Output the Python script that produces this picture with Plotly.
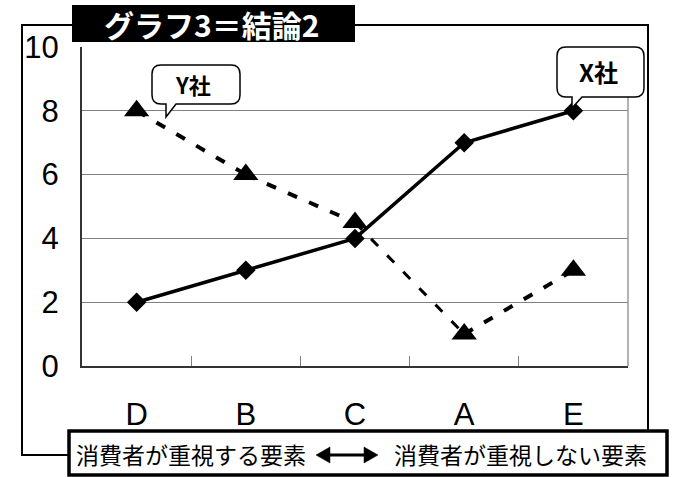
import plotly.graph_objects as go

# ---- data ----
categories = ["D", "B", "C", "A", "E"]
x_company = [2, 3, 4, 7, 8]          # X社 (solid, diamonds)
y_company = [8, 6, 4.5, 1, 3]        # Y社 (dashed, triangles)
y_seg_widths = [4, 4, 3, 4]          # dashed segment thickness
y_ticks = [0, 2, 4, 6, 8, 10]
title_text = "グラフ3＝結論2"
left_label = "消費者が重視する要素"
right_label = "消費者が重視しない要素"

# ---- layout geometry (pixels) ----
FW, FH = 690, 477
L, T, W, H = 82, 47, 546, 319

def px(x):
    return (x - L) / W

def py(y):
    return (T + H - y) / H

def path(points, close=True):
    s = "M " + " L ".join(f"{px(x):.5f},{py(y):.5f}" for x, y in points)
    return s + (" Z" if close else "")

def callout_path(x0, y0, x1, y1, r, tl, tr, tip):
    s = f"M {px(x0 + r):.5f},{py(y0):.5f}"
    s += f" L {px(x1 - r):.5f},{py(y0):.5f}"
    s += f" Q {px(x1):.5f},{py(y0):.5f} {px(x1):.5f},{py(y0 + r):.5f}"
    s += f" L {px(x1):.5f},{py(y1 - r):.5f}"
    s += f" Q {px(x1):.5f},{py(y1):.5f} {px(x1 - r):.5f},{py(y1):.5f}"
    s += f" L {px(tr):.5f},{py(y1):.5f}"
    s += f" L {px(tip[0]):.5f},{py(tip[1]):.5f}"
    s += f" L {px(tl):.5f},{py(y1):.5f}"
    s += f" L {px(x0 + r):.5f},{py(y1):.5f}"
    s += f" Q {px(x0):.5f},{py(y1):.5f} {px(x0):.5f},{py(y1 - r):.5f}"
    s += f" L {px(x0):.5f},{py(y0 + r):.5f}"
    s += f" Q {px(x0):.5f},{py(y0):.5f} {px(x0 + r):.5f},{py(y0):.5f} Z"
    return s

fig = go.Figure()

# X社 line
fig.add_trace(go.Scatter(
    x=categories, y=x_company, mode="lines+markers",
    line=dict(color="black", width=3.5),
    marker=dict(symbol="diamond", size=15, color="black"),
    showlegend=False, hoverinfo="skip"))

# Y社 dashed segments
for i in range(len(categories) - 1):
    fig.add_trace(go.Scatter(
        x=categories[i:i + 2], y=y_company[i:i + 2], mode="lines",
        line=dict(color="black", width=y_seg_widths[i], dash="10px,13px"),
        showlegend=False, hoverinfo="skip"))
fig.add_trace(go.Scatter(
    x=categories, y=y_company, mode="markers",
    marker=dict(symbol="triangle-up", size=22, color="black"),
    showlegend=False, hoverinfo="skip"))

shapes = []
# plot right edge
shapes.append(dict(type="line", xref="paper", yref="paper", x0=1, x1=1, y0=0, y1=1,
                   line=dict(color="#999999", width=1.5), layer="above"))
# outer frame
shapes.append(dict(type="path", xref="paper", yref="paper",
                   path=path([(68, 455), (22, 455), (22, 25), (648, 25), (648, 430)], close=False),
                   line=dict(color="black", width=2), layer="above"))
# title box
shapes.append(dict(type="path", xref="paper", yref="paper",
                   path=path([(72, 5), (355, 5), (355, 42), (72, 42)]),
                   fillcolor="black", line=dict(color="black", width=0), layer="above"))
# bottom box
shapes.append(dict(type="path", xref="paper", yref="paper",
                   path=path([(69, 431), (667, 431), (667, 475), (69, 475)]),
                   fillcolor="white", line=dict(color="black", width=3.5), layer="above"))
# double arrow
shapes.append(dict(type="path", xref="paper", yref="paper",
                   path=path([(326, 455), (368, 455)], close=False),
                   line=dict(color="black", width=3), layer="above"))
shapes.append(dict(type="path", xref="paper", yref="paper",
                   path=path([(316, 455), (330, 447), (330, 463)]),
                   fillcolor="black", line=dict(color="black", width=0.5), layer="above"))
shapes.append(dict(type="path", xref="paper", yref="paper",
                   path=path([(378, 455), (364, 447), (364, 463)]),
                   fillcolor="black", line=dict(color="black", width=0.5), layer="above"))
# callouts
shapes.append(dict(type="path", xref="paper", yref="paper",
                   path=callout_path(152, 65, 240, 104, 9, 166, 176, (166, 117)),
                   fillcolor="white", line=dict(color="black", width=1.5), layer="above"))
shapes.append(dict(type="path", xref="paper", yref="paper",
                   path=callout_path(557, 47, 644, 97, 9, 572, 582, (572, 108)),
                   fillcolor="white", line=dict(color="black", width=1.5), layer="above"))

cjk = "Noto Sans CJK JP"
annotations = [
    dict(text=f"<b>{title_text}</b>", x=px(211), y=py(24), xref="paper", yref="paper",
         xanchor="center", yanchor="middle", showarrow=False,
         font=dict(family=cjk, size=30, color="white")),
    dict(text="<b>Y社</b>", x=px(193), y=py(84), xref="paper", yref="paper",
         xanchor="center", yanchor="middle", showarrow=False,
         font=dict(family=cjk, size=22, color="black")),
    dict(text="<b>X社</b>", x=px(598), y=py(72), xref="paper", yref="paper",
         xanchor="center", yanchor="middle", showarrow=False,
         font=dict(family=cjk, size=24, color="black")),
    dict(text=left_label, x=px(74), y=py(454), xref="paper", yref="paper",
         xanchor="left", yanchor="middle", showarrow=False,
         font=dict(family=cjk, size=23, color="black")),
    dict(text=right_label, x=px(649), y=py(454), xref="paper", yref="paper",
         xanchor="right", yanchor="middle", showarrow=False,
         font=dict(family=cjk, size=23, color="black")),
]

tickfont = dict(family="Liberation Sans Narrow, Liberation Sans, Arial", size=31, color="black")

fig.update_layout(
    width=FW, height=FH,
    margin=dict(l=L, r=FW - L - W, t=T, b=FH - T - H, pad=0),
    paper_bgcolor="white", plot_bgcolor="white",
    shapes=shapes, annotations=annotations, showlegend=False,
    xaxis=dict(type="category", categoryorder="array", categoryarray=categories,
               range=[-0.5, len(categories) - 0.5], tickson="boundaries",
               ticks="inside", ticklen=10, tickcolor="#808080", tickwidth=1,
               showline=True, linecolor="#333333", linewidth=2,
               showgrid=False, zeroline=False, ticklabelstandoff=20,
               tickfont=tickfont),
    yaxis=dict(range=[0, 10], tickvals=y_ticks, ticks="inside", ticklen=9,
               tickcolor="#808080", showline=True, linecolor="#333333", linewidth=2,
               showgrid=True, gridcolor="#808080", gridwidth=1, zeroline=False,
               ticklabelstandoff=15,
               tickfont=tickfont),
)

fig.write_html("out.html")
